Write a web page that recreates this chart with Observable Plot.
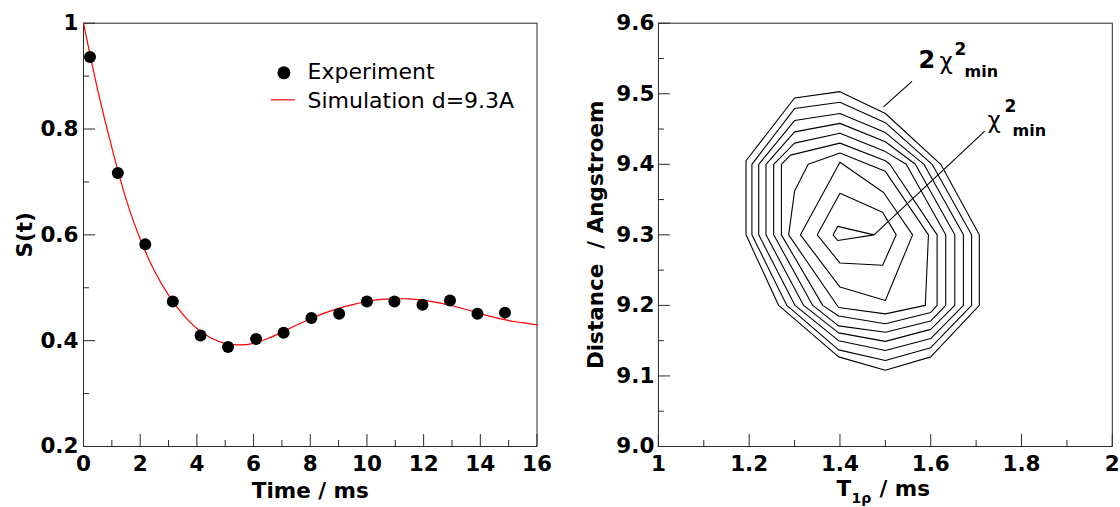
<!DOCTYPE html>
<html><head><meta charset="utf-8">
<script src="https://cdn.jsdelivr.net/npm/d3@7"></script>
<script src="https://cdn.jsdelivr.net/npm/@observablehq/plot@0.6"></script>
<style>
html,body{margin:0;padding:0;background:#fff;}
#wrap{position:relative;width:1120px;height:507px;overflow:hidden;background:#fff;}
#wrap svg{position:absolute;top:0;overflow:visible;}
</style></head><body><div id="wrap"></div>
<script>
// ---------- Left panel data ----------
const expTime = [0.23, 1.21, 2.18, 3.15, 4.13, 5.10, 6.09, 7.06, 8.04, 9.02, 10.0, 10.97, 11.96, 12.93, 13.9, 14.87];
const expS    = [0.936, 0.717, 0.582, 0.474, 0.410, 0.388, 0.403, 0.415, 0.443, 0.451, 0.474, 0.474, 0.468, 0.476, 0.451, 0.453];
const simTime = [0, 0.5, 1, 1.5, 2, 2.5, 3, 3.5, 4, 4.5, 5, 5.5, 6, 6.5, 7, 7.5, 8, 8.5, 9, 9.5, 10, 10.5, 11, 11.5, 12, 12.5, 13, 13.5, 14, 14.5, 15, 15.5, 16];
const simS    = [1.0, 0.874, 0.765, 0.668, 0.592, 0.532, 0.486, 0.450, 0.423, 0.405, 0.395, 0.392, 0.395, 0.404, 0.416, 0.429, 0.441, 0.452, 0.461, 0.468, 0.474, 0.478, 0.479, 0.479, 0.476, 0.472, 0.466, 0.459, 0.451, 0.444, 0.438, 0.434, 0.430];
const leftXMajor = [0, 2, 4, 6, 8, 10, 12, 14, 16];
const leftXLabels = ["0", "2", "4", "6", "8", "10", "12", "14", "16"];
const leftXMinor = [1, 3, 5, 7, 9, 11, 13, 15];
const leftYMajor = [0.2, 0.4, 0.6, 0.8, 1.0];
const leftYLabels = ["0.2", "0.4", "0.6", "0.8", "1"];
const leftYMinor = [0.3, 0.5, 0.7, 0.9];
const legendLabels = ["Experiment", "Simulation d=9.3A"];

// ---------- Right panel data (contour polygons: [T1rho, distance]) ----------
const c1 = [[1.4,9.503],[1.3,9.494],[1.193,9.405],[1.193,9.3],[1.265,9.2],[1.397,9.127],[1.5,9.108],[1.6,9.127],[1.707,9.2],[1.707,9.3],[1.622,9.4],[1.5,9.472]];
const c2 = [[1.4,9.488],[1.3,9.479],[1.206,9.4],[1.206,9.3],[1.283,9.2],[1.397,9.137],[1.5,9.122],[1.6,9.14],[1.69,9.2],[1.69,9.3],[1.603,9.4],[1.5,9.459]];
const c3 = [[1.4,9.472],[1.3,9.462],[1.221,9.4],[1.221,9.3],[1.301,9.2],[1.397,9.15],[1.5,9.136],[1.6,9.153],[1.672,9.2],[1.672,9.3],[1.585,9.4],[1.5,9.445]];
const c4 = [[1.4,9.458],[1.3,9.446],[1.237,9.4],[1.237,9.3],[1.32,9.2],[1.397,9.161],[1.5,9.149],[1.6,9.166],[1.653,9.2],[1.653,9.3],[1.566,9.4],[1.5,9.432]];
const c5 = [[1.4,9.444],[1.3,9.43],[1.254,9.4],[1.254,9.3],[1.34,9.2],[1.397,9.171],[1.5,9.162],[1.6,9.178],[1.633,9.2],[1.633,9.3],[1.546,9.4],[1.5,9.418]];
const c6 = [[1.4,9.43],[1.291,9.413],[1.271,9.4],[1.271,9.3],[1.362,9.2],[1.397,9.185],[1.5,9.174],[1.6,9.19],[1.614,9.2],[1.614,9.3],[1.51,9.4],[1.5,9.405]];
const c7 = [[1.4,9.416],[1.33,9.4],[1.3,9.362],[1.287,9.3],[1.397,9.197],[1.5,9.188],[1.588,9.2],[1.595,9.3],[1.5,9.39]];
const c8 = [[1.4,9.403],[1.496,9.36],[1.56,9.3],[1.5,9.207],[1.4,9.226],[1.313,9.3]];
const c9 = [[1.4,9.359],[1.494,9.332],[1.524,9.3],[1.494,9.257],[1.4,9.26],[1.35,9.3]];
const c10 = [[1.395,9.312],[1.475,9.3],[1.395,9.292],[1.385,9.3]];
const leader2min = [[1.4959, 9.4814], [1.5587, 9.5176]];
const leaderMin  = [[1.475, 9.3], [1.719, 9.447]];
const rightXMajor = [1, 1.2, 1.4, 1.6, 1.8, 2];
const rightXLabels = ["1", "1.2", "1.4", "1.6", "1.8", "2"];
const rightXMinor = [1.1, 1.3, 1.5, 1.7, 1.9];
const rightYMajor = [9.0, 9.1, 9.2, 9.3, 9.4, 9.5, 9.6];
const rightYLabels = ["9.0", "9.1", "9.2", "9.3", "9.4", "9.5", "9.6"];
const rightYMinor = [9.05, 9.15, 9.25, 9.35, 9.45, 9.55];

// ---------- build tables ----------
const expData = expTime.map((t, i) => ({t, s: expS[i]}));
const simData = simTime.map((t, i) => ({t, s: simS[i]}));
const contours = [c1, c2, c3, c4, c5, c6, c7, c8, c9, c10];
const contourData = contours.flatMap((c, k) => [...c, c[0]].map(([T, D]) => ({id: k, T, D})));

const FONT = "'DejaVu Sans', 'Liberation Sans', sans-serif";
const FRAME = "#2a2a2a";
const W = 560, HGT = 507, MT = 22.7, MB = 61;
const H = HGT - MT - MB;

// ---------- Left plot ----------
const LML = 83, LMR = 23.5, LW = W - LML - LMR;
const left = Plot.plot({
  width: W, height: HGT,
  marginLeft: LML, marginRight: LMR, marginTop: MT, marginBottom: MB,
  x: {domain: [0, 16]},
  y: {domain: [0.2, 1]},
  style: {fontFamily: FONT, fontSize: "21.5px", fontWeight: "bold", color: "#000", background: "transparent"},
  marks: [
    Plot.frame({stroke: FRAME}),
    Plot.tickX(leftXMinor, {x: d => d, insetTop: H - 6, stroke: FRAME}),
    Plot.tickX(leftXMajor, {x: d => d, insetTop: H - 12, stroke: FRAME}),
    Plot.tickY(leftYMinor, {y: d => d, insetRight: LW - 6, stroke: FRAME}),
    Plot.tickY(leftYMajor, {y: d => d, insetRight: LW - 12, stroke: FRAME}),
    Plot.axisX(leftXMajor, {tickSize: 0, tickPadding: 9, label: null, tickFormat: d => leftXLabels[leftXMajor.indexOf(d)]}),
    Plot.axisY(leftYMajor, {tickSize: 0, tickPadding: 5, label: null, tickFormat: d => leftYLabels[leftYMajor.indexOf(d)]}),
    Plot.line(simData, {x: "t", y: "s", stroke: "#ff0000", strokeWidth: 1.2, curve: "catmull-rom"}),
    Plot.dot(expData, {x: "t", y: "s", r: 6, fill: "#000", stroke: "none"}),
    // legend
    Plot.dot([0], {frameAnchor: "top-left", dx: 200.4, dy: 49.6, r: 6.5, fill: "#000", stroke: "none"}),
    Plot.ruleY([0.8552], {x1: 6.62, x2: 7.476, stroke: "#ff0000", strokeWidth: 1.2}),
    Plot.text([legendLabels[0]], {frameAnchor: "top-left", dx: 224, dy: 55.6, textAnchor: "start", lineAnchor: "bottom", fontWeight: "normal", fontSize: 22}),
    Plot.text([legendLabels[1]], {frameAnchor: "top-left", dx: 224, dy: 85, textAnchor: "start", lineAnchor: "bottom", fontWeight: "normal", fontSize: 22}),
    // axis titles
    Plot.text(["Time / ms"], {frameAnchor: "bottom", dy: 51, textAnchor: "middle", lineAnchor: "bottom"}),
    Plot.text(["S(t)"], {frameAnchor: "left", dx: -52, rotate: -90, textAnchor: "middle", lineAnchor: "bottom"})
  ]
});
left.style.left = "0px";

// ---------- Right plot ----------
const RML = 97.9, RMR = 8.2, RW = W - RML - RMR;
const right = Plot.plot({
  width: W, height: HGT,
  marginLeft: RML, marginRight: RMR, marginTop: MT, marginBottom: MB,
  x: {domain: [1, 2]},
  y: {domain: [9.0, 9.6]},
  style: {fontFamily: FONT, fontSize: "21.5px", fontWeight: "bold", color: "#000", background: "transparent"},
  marks: [
    Plot.frame({stroke: FRAME}),
    Plot.tickX(rightXMinor, {x: d => d, insetTop: H - 6, stroke: FRAME}),
    Plot.tickX(rightXMajor, {x: d => d, insetTop: H - 12, stroke: FRAME}),
    Plot.tickY(rightYMinor, {y: d => d, insetRight: RW - 6, stroke: FRAME}),
    Plot.tickY(rightYMajor, {y: d => d, insetRight: RW - 12, stroke: FRAME}),
    Plot.axisX(rightXMajor, {tickSize: 0, tickPadding: 9, label: null, tickFormat: d => rightXLabels[rightXMajor.indexOf(d)]}),
    Plot.axisY(rightYMajor, {tickSize: 0, tickPadding: 4, label: null, tickFormat: d => rightYLabels[rightYMajor.indexOf(d)]}),
    Plot.line(contourData, {x: "T", y: "D", z: "id", stroke: "#000", strokeWidth: 1.1}),
    Plot.link([leader2min], {x1: d => d[0][0], y1: d => d[0][1], x2: d => d[1][0], y2: d => d[1][1], stroke: "#000", strokeWidth: 1.1}),
    Plot.link([leaderMin], {x1: d => d[0][0], y1: d => d[0][1], x2: d => d[1][0], y2: d => d[1][1], stroke: "#000", strokeWidth: 1.1}),
    // "2 χ²min" label
    Plot.text(["2"], {frameAnchor: "top-left", dx: 918 - 657.9, dy: 67.5 - MT, textAnchor: "start", lineAnchor: "bottom", fontSize: 24}),
    Plot.text(["χ"], {frameAnchor: "top-left", dx: 939 - 657.9, dy: 68 - MT, textAnchor: "start", lineAnchor: "bottom", fontSize: 23, fontWeight: "normal"}),
    Plot.text(["2"], {frameAnchor: "top-left", dx: 954 - 657.9, dy: 54 - MT, textAnchor: "start", lineAnchor: "bottom", fontSize: 17}),
    Plot.text(["min"], {frameAnchor: "top-left", dx: 964 - 657.9, dy: 76.5 - MT, textAnchor: "start", lineAnchor: "bottom", fontSize: 16}),
    // "χ²min" label
    Plot.text(["χ"], {frameAnchor: "top-left", dx: 987 - 657.9, dy: 127 - MT, textAnchor: "start", lineAnchor: "bottom", fontSize: 23, fontWeight: "normal"}),
    Plot.text(["2"], {frameAnchor: "top-left", dx: 1004 - 657.9, dy: 111 - MT, textAnchor: "start", lineAnchor: "bottom", fontSize: 17}),
    Plot.text(["min"], {frameAnchor: "top-left", dx: 1012 - 657.9, dy: 135.5 - MT, textAnchor: "start", lineAnchor: "bottom", fontSize: 16}),
    // axis titles
    Plot.text(["T"], {frameAnchor: "bottom-left", dx: 836 - 657.9, dy: 49, textAnchor: "start", lineAnchor: "bottom"}),
    Plot.text(["1ρ"], {frameAnchor: "bottom-left", dx: 851 - 657.9, dy: 56.5, textAnchor: "start", lineAnchor: "bottom", fontSize: 14}),
    Plot.text(["/ ms"], {frameAnchor: "bottom-left", dx: 879 - 657.9, dy: 49, textAnchor: "start", lineAnchor: "bottom"}),
    Plot.text(["Distance\u00a0 / Angstroem"], {frameAnchor: "left", dx: 602.7 - 657.9, rotate: -90, textAnchor: "middle", lineAnchor: "bottom"})
  ]
});
right.style.left = "560px";

const wrap = document.getElementById("wrap");
wrap.appendChild(left);
wrap.appendChild(right);
</script>
</body></html>
